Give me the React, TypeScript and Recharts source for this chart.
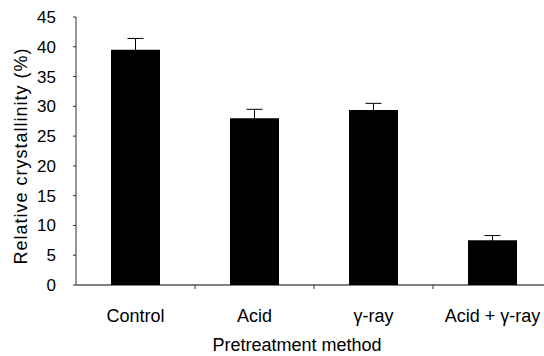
import React from 'react';
import { BarChart, Bar, XAxis, YAxis, ErrorBar } from 'recharts';

const categories = ['Control', 'Acid', 'γ-ray', 'Acid + γ-ray'];
const crystallinity = [39.5, 28.0, 29.4, 7.5];
const stdError = [1.9, 1.5, 1.1, 0.8];
const yTicks = [0, 5, 10, 15, 20, 25, 30, 35, 40, 45];

const data = categories.map((c, i) => ({ name: c, value: crystallinity[i], err: stdError[i] }));

const FONT = '"Liberation Sans", Arial, sans-serif';

const CategoryTick = (props: any) => {
  const { x, y, payload } = props;
  const half = payload && payload.offset != null ? payload.offset : 0;
  return (
    <g>
      <line x1={x + half} x2={x + half} y1={y} y2={y + 4} stroke="#333" strokeWidth={1} />
      <text x={x} y={y + 37} textAnchor="middle" fontFamily={FONT} fontSize={18} fill="#000">
        {payload.value}
      </text>
    </g>
  );
};

const YLabel = (p: any) => {
  const vb = p.viewBox || { x: 0, y: 17, width: 76, height: 268 };
  const cy = vb.y + vb.height / 2 + 5;
  const cx = 21;
  return (
    <text
      x={cx}
      y={cy}
      transform={`rotate(-90 ${cx} ${cy})`}
      textAnchor="middle"
      dominantBaseline="central"
      fontFamily={FONT}
      fontSize={18}
      letterSpacing={1}
      fill="#000"
    >
      Relative crystallinity (%)
    </text>
  );
};

const XLabel = (p: any) => {
  const vb = p.viewBox || { x: 76, y: 285, width: 476, height: 71 };
  return (
    <text x={297} y={vb.y + 66} textAnchor="middle" fontFamily={FONT} fontSize={18} fill="#000">
      Pretreatment method
    </text>
  );
};

export default function App() {
  return (
    <div style={{ position: 'fixed', left: 0, top: 0, width: 544, height: 356, overflow: 'hidden', background: '#fff' }}>
      <BarChart width={560} height={356} data={data} margin={{ top: 17, right: 8, bottom: 0, left: 0 }}>
        <XAxis
          dataKey="name"
          interval={0}
          tickLine={false}
          tickSize={0}
          tickMargin={0}
          tick={<CategoryTick />}
          axisLine={{ stroke: '#000', strokeWidth: 1 }}
          height={71}
          label={{ content: <XLabel /> }}
        />
        <YAxis
          domain={[0, 45]}
          ticks={yTicks}
          interval={0}
          width={76}
          tickSize={3}
          tickMargin={17}
          tickLine={{ stroke: '#333' }}
          axisLine={{ stroke: '#333', strokeWidth: 1 }}
          tick={{ fill: '#000', fontSize: 17, fontFamily: FONT }}
          label={{ content: <YLabel /> }}
        />
        <Bar dataKey="value" fill="#000" barSize={49} isAnimationActive={false}>
          <ErrorBar dataKey="err" width={8} stroke="#000" strokeWidth={1} direction="y" />
        </Bar>
      </BarChart>
    </div>
  );
}
